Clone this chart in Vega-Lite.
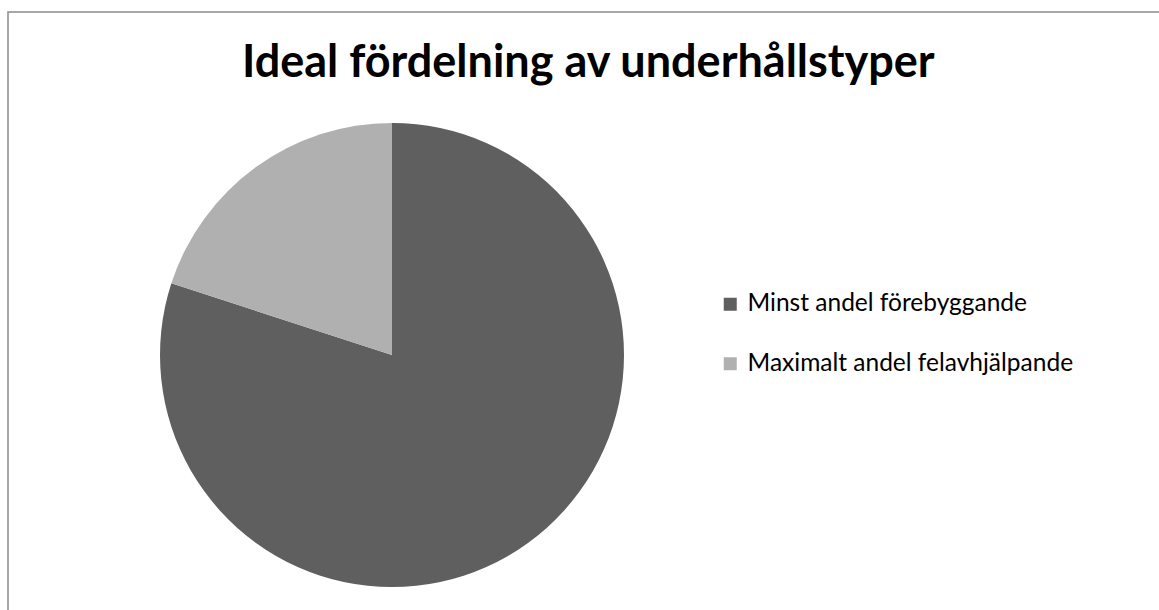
{
  "$schema": "https://vega.github.io/schema/vega-lite/v6.json",
  "width": 1152,
  "height": 599,
  "autosize": {"type": "none"},
  "padding": {"left": 8, "top": 12, "right": 0, "bottom": 0},
  "background": "white",
  "view": {"stroke": "#8a8a8a", "strokeWidth": 1.5},
  "title": {
    "text": "Ideal fördelning av underhållstyper",
    "font": "Lato",
    "fontSize": 45,
    "fontWeight": "bold",
    "color": "#000000",
    "anchor": "start",
    "dx": 234,
    "baseline": "alphabetic",
    "offset": -110
  },
  "data": {
    "values": [
      {"typ": "Minst andel förebyggande", "andel": 80, "rank": 1},
      {"typ": "Maximalt andel felavhjälpande", "andel": 20, "rank": 2}
    ]
  },
  "mark": {"type": "arc", "outerRadius": 232, "x": 384, "y": 343},
  "encoding": {
    "theta": {"field": "andel", "type": "quantitative", "stack": true},
    "order": {"field": "rank", "type": "quantitative"},
    "color": {
      "field": "typ",
      "type": "nominal",
      "scale": {
        "domain": ["Minst andel förebyggande", "Maximalt andel felavhjälpande"],
        "range": ["#5f5f5f", "#b0b0b0"]
      },
      "legend": {
        "title": null,
        "orient": "none",
        "legendX": 710,
        "legendY": 280,
        "symbolType": "square",
        "symbolSize": 169,
        "symbolStrokeWidth": 0,
        "labelFont": "Lato",
        "labelFontSize": 24.5,
        "labelColor": "#000000",
        "labelOffset": 5,
        "rowPadding": 34.5,
        "labelLimit": 400
      }
    }
  }
}
